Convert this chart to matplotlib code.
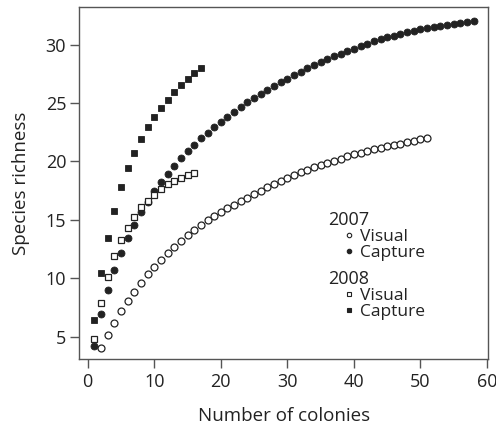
"""Species accumulation curves: species richness vs number of colonies, 2007/2008."""

import matplotlib

matplotlib.use("Agg")

import matplotlib.pyplot as plt  # noqa: E402
from matplotlib.lines import Line2D  # noqa: E402

plt.rcParams["font.family"] = ["Open Sans", "DejaVu Sans"]

INK = "#222222"
SPINE = "#555555"

# --- data ----------------------------------------------------------------
colonies_2007_visual = list(range(2, 52))
richness_2007_visual = [
    4.0, 5.1, 6.2, 7.17, 8.06, 8.86, 9.63, 10.38, 11.0, 11.57,
    12.15, 12.7, 13.17, 13.66, 14.1, 14.55, 14.95, 15.3, 15.7, 16.0,
    16.3, 16.6, 16.9, 17.2, 17.5, 17.8, 18.1, 18.35, 18.6, 18.85,
    19.1, 19.3, 19.5, 19.7, 19.9, 20.08, 20.25, 20.43, 20.6, 20.75,
    20.9, 21.03, 21.15, 21.28, 21.4, 21.53, 21.65, 21.78, 21.9, 22.0,
]

colonies_2007_capture = list(range(1, 59))
richness_2007_capture = [
    4.2, 6.92, 8.97, 10.74, 12.15, 13.43, 14.57, 15.63, 16.57, 17.43,
    18.23, 18.94, 19.6, 20.3, 20.86, 21.43, 22.0, 22.46, 22.94, 23.4,
    23.83, 24.26, 24.65, 25.06, 25.45, 25.8, 26.15, 26.5, 26.8, 27.1,
    27.4, 27.7, 27.97, 28.23, 28.5, 28.75, 29.0, 29.23, 29.45, 29.67,
    29.88, 30.08, 30.27, 30.45, 30.62, 30.78, 30.94, 31.08, 31.21, 31.34,
    31.45, 31.55, 31.63, 31.7, 31.78, 31.85, 31.92, 32.0,
]

colonies_2008_visual = list(range(1, 17))
richness_2008_visual = [
    4.83, 7.91, 10.14, 11.89, 13.26, 14.34, 15.23, 16.06, 16.63, 17.14,
    17.63, 18.06, 18.29, 18.6, 18.86, 19.03,
]

colonies_2008_capture = list(range(1, 18))
richness_2008_capture = [
    6.4, 10.43, 13.43, 15.8, 17.77, 19.4, 20.74, 21.94, 22.91, 23.8,
    24.57, 25.29, 25.94, 26.51, 27.05, 27.54, 27.99,
]

x_ticks = [0, 10, 20, 30, 40, 50, 60]
y_ticks = [5, 10, 15, 20, 25, 30]

# --- figure -----------------------------------------------------------------
fig = plt.figure(figsize=(4.96, 4.28), dpi=100)
ax = fig.add_axes([0.160, 0.1605, 0.8245, 0.8225])

ms = 5.0
ax.plot(colonies_2007_visual, richness_2007_visual, "o", ms=ms, mfc="white",
        mec=INK, mew=0.9, ls="none")
ax.plot(colonies_2007_capture, richness_2007_capture, "o", ms=ms, mfc=INK,
        mec=INK, mew=0.6, ls="none")
ax.plot(colonies_2008_visual, richness_2008_visual, "s", ms=ms, mfc="white",
        mec=INK, mew=0.9, ls="none")
ax.plot(colonies_2008_capture, richness_2008_capture, "s", ms=ms - 0.6, mfc=INK,
        mec=INK, mew=0.6, ls="none")

ax.set_xlim(-1.26, 60.2)
ax.set_ylim(3.06, 33.2)
ax.set_xticks(x_ticks)
ax.set_yticks(y_ticks)
ax.tick_params(direction="out", length=6.5, width=1, color=SPINE,
               labelsize=13, labelcolor=INK, pad=3)
for spine in ax.spines.values():
    spine.set_color(SPINE)
    spine.set_linewidth(1)

ax.set_xlabel("Number of colonies", fontsize=13.5, color=INK, labelpad=12)
ax.set_ylabel("Species richness", fontsize=13.5, color=INK, labelpad=11)

# --- two-block legend -------------------------------------------------------
def _legend(title, marker, anchor):
    handles = [
        Line2D([], [], marker=marker, ls="none", ms=3.2, mfc="white", mec=INK, mew=0.8),
        Line2D([], [], marker=marker, ls="none", ms=3.2, mfc=INK, mec=INK, mew=0.8),
    ]
    leg = ax.legend(handles, ["Visual", "Capture"], title=title, loc="upper left",
                    bbox_to_anchor=anchor, bbox_transform=fig.transFigure,
                    frameon=False, fontsize=12.5, title_fontsize=13,
                    alignment="left", handlelength=2.4, handletextpad=-0.55,
                    labelspacing=0.0, borderpad=0, borderaxespad=0)
    for t in leg.get_texts():
        t.set_color(INK)
    leg.get_title().set_color(INK)
    return leg

leg1 = _legend("2007", "o", (0.662, 1 - 211 / 428))
ax.add_artist(leg1)
_legend("2008", "s", (0.662, 1 - 270 / 428))

fig.savefig("out.png", dpi=100, facecolor="white")
